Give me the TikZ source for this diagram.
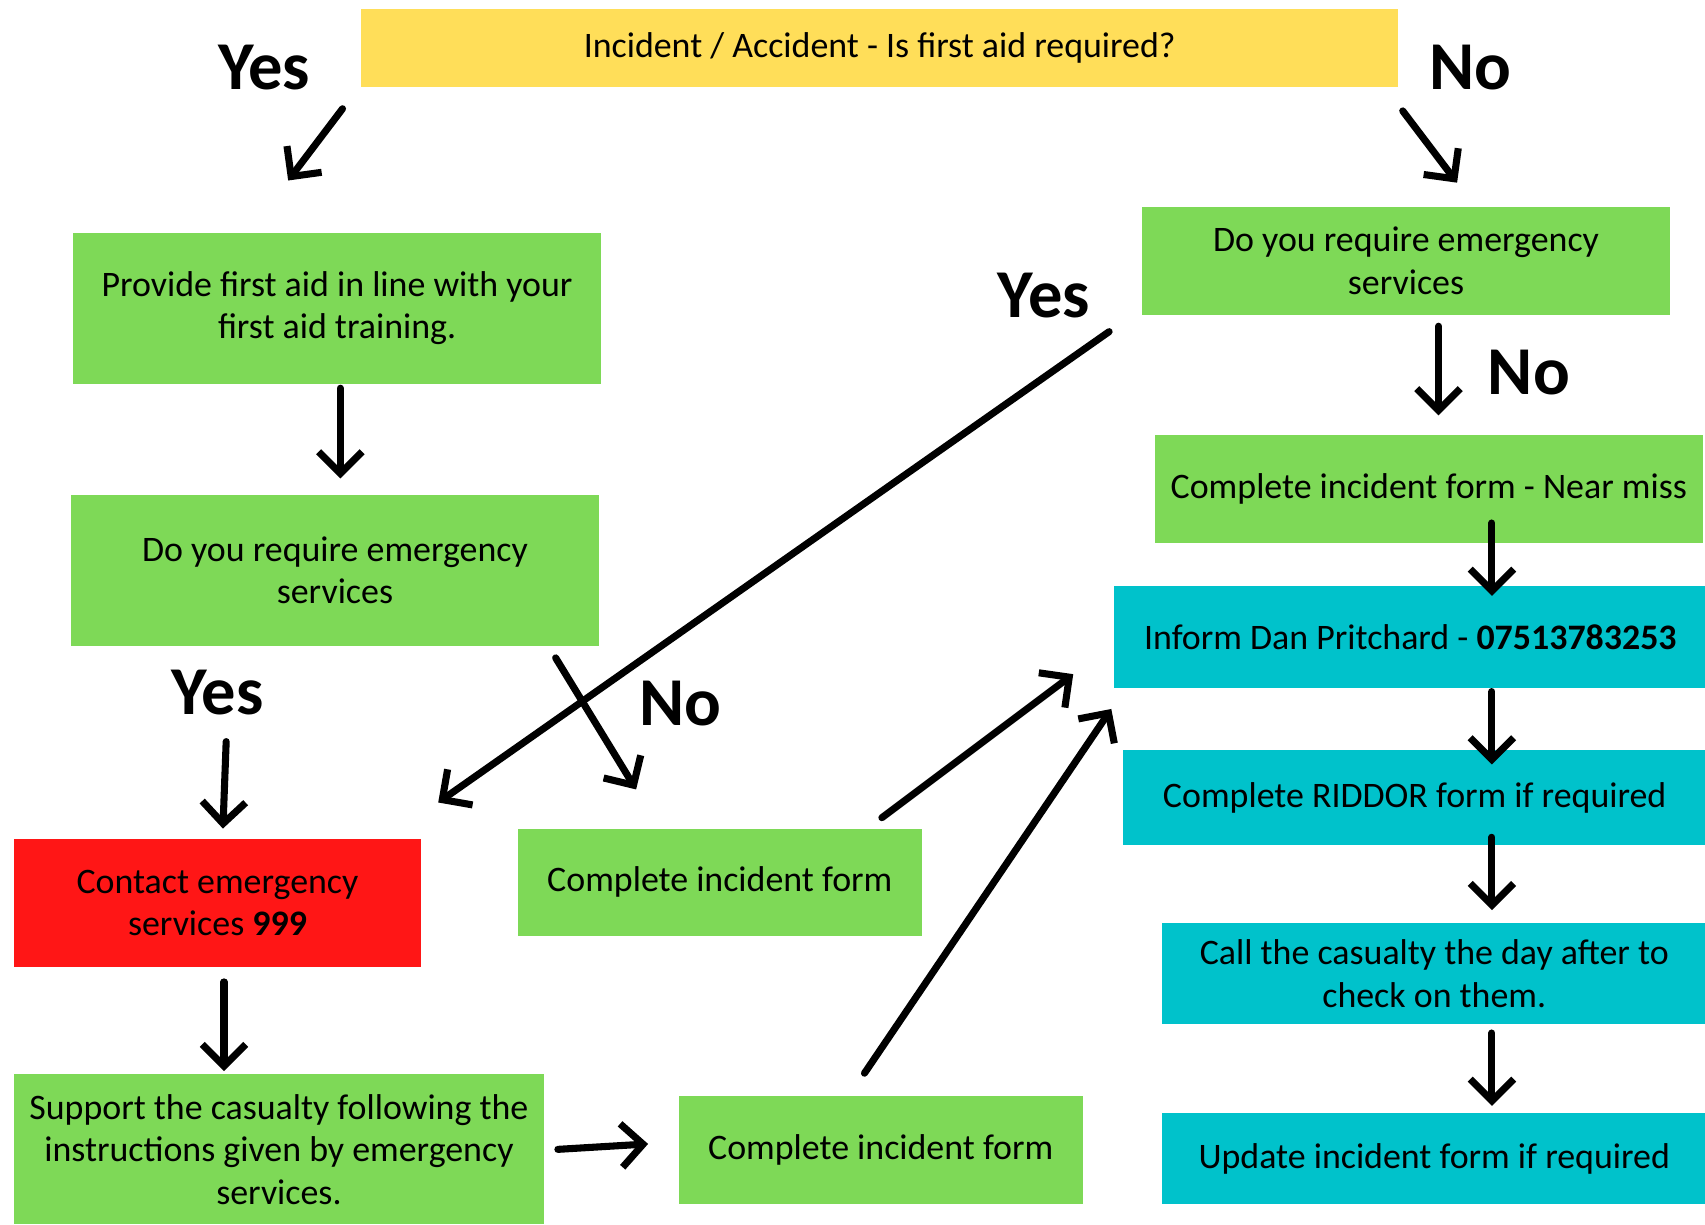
\documentclass[tikz,border=0pt]{standalone}
\usepackage{fontspec}
\setmainfont{Carlito}
\usetikzlibrary{arrows.meta}
\definecolor{cyel}{HTML}{FFDE59}
\definecolor{cgrn}{HTML}{7ED957}
\definecolor{cred}{HTML}{FF1616}
\definecolor{ccya}{HTML}{00C2CB}
\tikzset{
  box/.style={fill=#1, draw=none, inner sep=0pt, align=center,
    font=\fontsize{33}{39}\selectfont},
  lbl/.style={inner sep=0pt, font=\fontsize{63}{66}\selectfont\bfseries},
  arr/.style={line width=6.5pt, line cap=round, line join=round,
    -{Straight Barb[length=20pt,width=40pt,line width=6.5pt]}}
}
\begin{document}
\begin{tikzpicture}[x=1pt,y=-1pt]
\useasboundingbox (0,0) rectangle (1568,1126);
% boxes
\node[box=cyel, minimum width=954pt, minimum height=72pt] (top) at (809,44) {Incident / Accident - Is first aid required?};
\node[box=cgrn, minimum width=486pt, minimum height=139pt] (provide) at (310,283.5) {Provide first aid in line with your\\first aid training.};
\node[box=cgrn, minimum width=486pt, minimum height=139pt] (doleft) at (308,524.5) {Do you require emergency\\services};
\node[box=cred, minimum width=374pt, minimum height=117pt] (red) at (200,830.5) {Contact emergency\\services \textbf{999}};
\node[box=cgrn, minimum width=372pt, minimum height=99pt] (cifmid) at (662,811.5) {Complete incident form};
\node[box=cgrn, minimum width=487pt, minimum height=138pt] (support) at (256.5,1057) {Support the casualty following the\\instructions given by emergency\\services.};
\node[box=cgrn, minimum width=372pt, minimum height=99pt] (cifbot) at (810,1057.5) {Complete incident form};
\node[box=cgrn, minimum width=486pt, minimum height=100pt] (doright) at (1293,240) {Do you require emergency\\services};
\node[box=cgrn, minimum width=504pt, minimum height=99pt] (nearmiss) at (1314,449.5) {Complete incident form - Near miss};
\node[box=ccya, minimum width=545pt, minimum height=94pt] (inform) at (1297,586) {Inform Dan Pritchard - \textbf{07513783253}};
\node[box=ccya, minimum width=537pt, minimum height=87pt] (riddor) at (1301,733.5) {Complete RIDDOR form if required};
\node[box=ccya, minimum width=501pt, minimum height=93pt] (call) at (1319,895.5) {Call the casualty the day after to\\check on them.};
\node[box=ccya, minimum width=501pt, minimum height=83pt] (update) at (1319,1065.5) {Update incident form if required};
% labels
\node[lbl] (yes1) at (243,62) {Yes};
\node[lbl] (no1) at (1352,62) {No};
\node[lbl] (yes2) at (200,637) {Yes};
\node[lbl] (no2) at (626,647) {No};
\node[lbl] (yes3) at (960,272) {Yes};
\node[lbl] (no3) at (1406,343) {No};
% arrow end points
\coordinate (a1s) at (315,100); \coordinate (a1e) at (265,166);
\coordinate (a2s) at (1290,102); \coordinate (a2e) at (1340,168);
\coordinate (a3s) at (313,357); \coordinate (a3e) at (313,440);
\coordinate (a4s) at (208,682); \coordinate (a4e) at (205,762);
\coordinate (a5s) at (511,605); \coordinate (a5e) at (585,726);
\coordinate (a6s) at (1020,305); \coordinate (a6e) at (403,738);
\coordinate (a7s) at (206,903); \coordinate (a7e) at (206,985);
\coordinate (a8s) at (513,1057); \coordinate (a8e) at (596,1052);
\coordinate (a9s) at (811,752); \coordinate (a9e) at (987,620);
\coordinate (a10s) at (795,987); \coordinate (a10e) at (1022,652);
\coordinate (a11s) at (1323,300); \coordinate (a11e) at (1323,382);
\coordinate (a12s) at (1372,481); \coordinate (a12e) at (1372,548);
\coordinate (a13s) at (1372,636); \coordinate (a13e) at (1372,703);
\coordinate (a14s) at (1372,770); \coordinate (a14e) at (1372,837);
\coordinate (a15s) at (1372,950); \coordinate (a15e) at (1372,1017);
\foreach \i in {1,...,15} {\draw[arr] (a\i s) -- (a\i e);}
\end{tikzpicture}
\end{document}
